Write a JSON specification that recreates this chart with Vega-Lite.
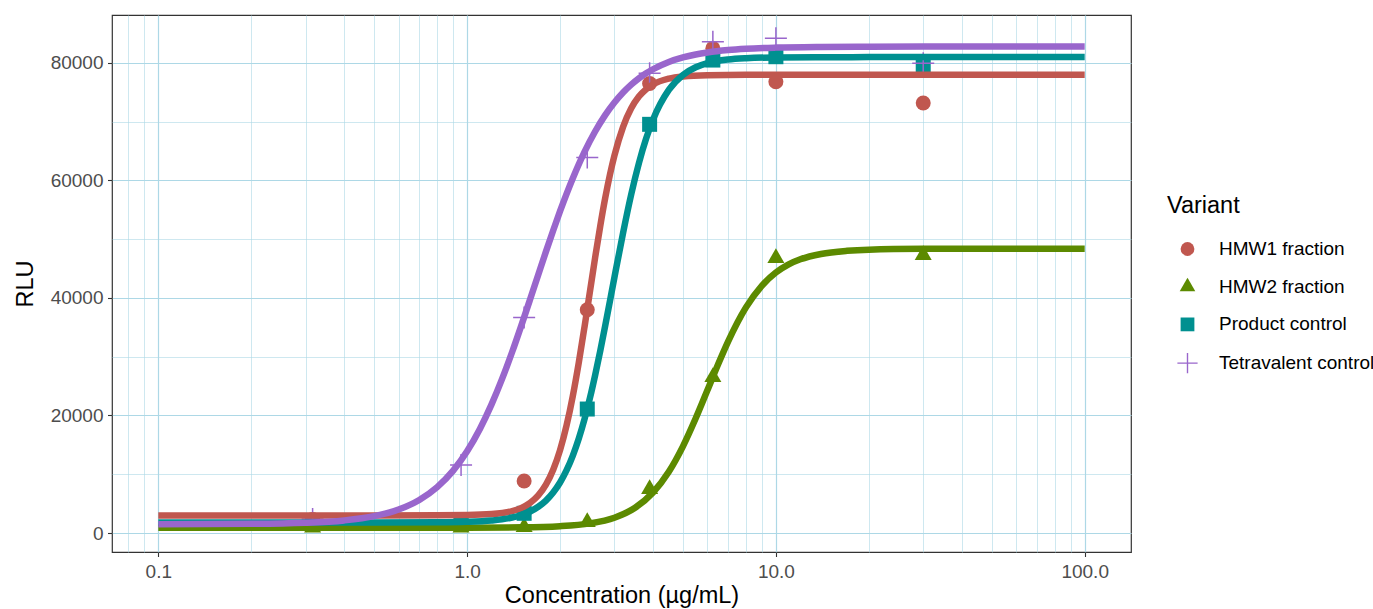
{
  "$schema": "https://vega.github.io/schema/vega-lite/v6.json",
  "width": 1019,
  "height": 537,
  "autosize": {"type": "none"},
  "padding": {"left": 112, "top": 15, "right": 242, "bottom": 57},
  "background": "white",
  "config": {
    "font": "Liberation Sans",
    "view": {"stroke": "#333333", "strokeWidth": 1.2},
    "axis": {
      "domain": false,
      "grid": true,
      "gridColor": "#ADD8E6",
      "labelFont": "Liberation Sans",
      "labelFontSize": 19,
      "labelColor": "#4D4D4D",
      "tickColor": "#333333",
      "tickSize": 4.5,
      "tickWidth": 1.1,
      "titleFont": "Liberation Sans",
      "titleFontSize": 23.5,
      "titleFontWeight": "normal",
      "titleColor": "#000000",
      "labelOverlap": false
    },
    "legend": {
      "titleFont": "Liberation Sans",
      "titleFontSize": 23.5,
      "titleFontWeight": "normal",
      "titleColor": "#000000",
      "labelFont": "Liberation Sans",
      "labelFontSize": 19,
      "labelColor": "#000000",
      "labelLimit": 400,
      "padding": 0,
      "orient": "none",
      "legendX": 1055,
      "legendY": 179,
      "titlePadding": 22,
      "symbolSize": 190,
      "symbolStrokeWidth": 0,
      "symbolOffset": 11,
      "labelOffset": 22,
      "rowPadding": 17.7
    }
  },
  "datasets": {
    "pts": [
      {"variant": "HMW1 fraction", "conc": 0.316, "rlu": 2300},
      {"variant": "HMW1 fraction", "conc": 0.956, "rlu": 2300},
      {"variant": "HMW1 fraction", "conc": 1.53, "rlu": 8850},
      {"variant": "HMW1 fraction", "conc": 2.45, "rlu": 38000},
      {"variant": "HMW1 fraction", "conc": 3.9, "rlu": 76500},
      {"variant": "HMW1 fraction", "conc": 6.25, "rlu": 82500},
      {"variant": "HMW1 fraction", "conc": 10, "rlu": 76800},
      {"variant": "HMW1 fraction", "conc": 30, "rlu": 73200},
      {"variant": "HMW2 fraction", "conc": 0.316, "rlu": 900},
      {"variant": "HMW2 fraction", "conc": 0.956, "rlu": 900},
      {"variant": "HMW2 fraction", "conc": 1.53, "rlu": 1000},
      {"variant": "HMW2 fraction", "conc": 2.45, "rlu": 1870},
      {"variant": "HMW2 fraction", "conc": 3.9, "rlu": 7490},
      {"variant": "HMW2 fraction", "conc": 6.25, "rlu": 26550},
      {"variant": "HMW2 fraction", "conc": 10, "rlu": 46800},
      {"variant": "HMW2 fraction", "conc": 30, "rlu": 47300},
      {"variant": "Product control", "conc": 0.316, "rlu": 1700},
      {"variant": "Product control", "conc": 0.956, "rlu": 1800},
      {"variant": "Product control", "conc": 1.53, "rlu": 3350},
      {"variant": "Product control", "conc": 2.45, "rlu": 21100},
      {"variant": "Product control", "conc": 3.9, "rlu": 69560},
      {"variant": "Product control", "conc": 6.25, "rlu": 80500},
      {"variant": "Product control", "conc": 10, "rlu": 81070},
      {"variant": "Product control", "conc": 30, "rlu": 79480},
      {"variant": "Tetravalent control", "conc": 0.316, "rlu": 2400},
      {"variant": "Tetravalent control", "conc": 0.956, "rlu": 11570},
      {"variant": "Tetravalent control", "conc": 1.53, "rlu": 36700},
      {"variant": "Tetravalent control", "conc": 2.45, "rlu": 63900},
      {"variant": "Tetravalent control", "conc": 3.9, "rlu": 78240},
      {"variant": "Tetravalent control", "conc": 6.25, "rlu": 83620},
      {"variant": "Tetravalent control", "conc": 10, "rlu": 84200},
      {"variant": "Tetravalent control", "conc": 30, "rlu": 79940}
    ],
    "curve": [
      {"variant": "HMW1 fraction", "conc": 0.1, "rlu": 3000},
      {"variant": "HMW1 fraction", "conc": 0.5, "rlu": 3000},
      {"variant": "HMW1 fraction", "conc": 0.8, "rlu": 3010},
      {"variant": "HMW1 fraction", "conc": 1.0, "rlu": 3051},
      {"variant": "HMW1 fraction", "conc": 1.2, "rlu": 3219},
      {"variant": "HMW1 fraction", "conc": 1.4, "rlu": 3744},
      {"variant": "HMW1 fraction", "conc": 1.5, "rlu": 4284},
      {"variant": "HMW1 fraction", "conc": 1.6, "rlu": 5125},
      {"variant": "HMW1 fraction", "conc": 1.7, "rlu": 6390},
      {"variant": "HMW1 fraction", "conc": 1.8, "rlu": 8228},
      {"variant": "HMW1 fraction", "conc": 1.9, "rlu": 10763},
      {"variant": "HMW1 fraction", "conc": 2.0, "rlu": 14100},
      {"variant": "HMW1 fraction", "conc": 2.1, "rlu": 18323},
      {"variant": "HMW1 fraction", "conc": 2.2, "rlu": 23350},
      {"variant": "HMW1 fraction", "conc": 2.3, "rlu": 29030},
      {"variant": "HMW1 fraction", "conc": 2.4, "rlu": 35080},
      {"variant": "HMW1 fraction", "conc": 2.5, "rlu": 41150},
      {"variant": "HMW1 fraction", "conc": 2.6, "rlu": 47000},
      {"variant": "HMW1 fraction", "conc": 2.7, "rlu": 52310},
      {"variant": "HMW1 fraction", "conc": 2.8, "rlu": 56990},
      {"variant": "HMW1 fraction", "conc": 2.9, "rlu": 60950},
      {"variant": "HMW1 fraction", "conc": 3.0, "rlu": 64250},
      {"variant": "HMW1 fraction", "conc": 3.2, "rlu": 69140},
      {"variant": "HMW1 fraction", "conc": 3.4, "rlu": 72290},
      {"variant": "HMW1 fraction", "conc": 3.6, "rlu": 74280},
      {"variant": "HMW1 fraction", "conc": 3.8, "rlu": 75540},
      {"variant": "HMW1 fraction", "conc": 4.0, "rlu": 76360},
      {"variant": "HMW1 fraction", "conc": 4.5, "rlu": 77350},
      {"variant": "HMW1 fraction", "conc": 5.0, "rlu": 77720},
      {"variant": "HMW1 fraction", "conc": 6.0, "rlu": 77930},
      {"variant": "HMW1 fraction", "conc": 8.0, "rlu": 77990},
      {"variant": "HMW1 fraction", "conc": 10, "rlu": 78000},
      {"variant": "HMW1 fraction", "conc": 100, "rlu": 78000},
      {"variant": "HMW2 fraction", "conc": 0.1, "rlu": 900},
      {"variant": "HMW2 fraction", "conc": 0.5, "rlu": 900},
      {"variant": "HMW2 fraction", "conc": 1.0, "rlu": 910},
      {"variant": "HMW2 fraction", "conc": 1.5, "rlu": 968},
      {"variant": "HMW2 fraction", "conc": 2.0, "rlu": 1162},
      {"variant": "HMW2 fraction", "conc": 2.5, "rlu": 1640},
      {"variant": "HMW2 fraction", "conc": 3.0, "rlu": 2608},
      {"variant": "HMW2 fraction", "conc": 3.5, "rlu": 4298},
      {"variant": "HMW2 fraction", "conc": 4.0, "rlu": 6890},
      {"variant": "HMW2 fraction", "conc": 4.5, "rlu": 10424},
      {"variant": "HMW2 fraction", "conc": 5.0, "rlu": 14751},
      {"variant": "HMW2 fraction", "conc": 5.5, "rlu": 19520},
      {"variant": "HMW2 fraction", "conc": 6.0, "rlu": 24290},
      {"variant": "HMW2 fraction", "conc": 6.5, "rlu": 28710},
      {"variant": "HMW2 fraction", "conc": 7.0, "rlu": 32570},
      {"variant": "HMW2 fraction", "conc": 7.5, "rlu": 35790},
      {"variant": "HMW2 fraction", "conc": 8.0, "rlu": 38400},
      {"variant": "HMW2 fraction", "conc": 9.0, "rlu": 42080},
      {"variant": "HMW2 fraction", "conc": 10, "rlu": 44340},
      {"variant": "HMW2 fraction", "conc": 11, "rlu": 45730},
      {"variant": "HMW2 fraction", "conc": 12, "rlu": 46590},
      {"variant": "HMW2 fraction", "conc": 14, "rlu": 47500},
      {"variant": "HMW2 fraction", "conc": 17, "rlu": 48030},
      {"variant": "HMW2 fraction", "conc": 20, "rlu": 48230},
      {"variant": "HMW2 fraction", "conc": 30, "rlu": 48370},
      {"variant": "HMW2 fraction", "conc": 50, "rlu": 48398},
      {"variant": "HMW2 fraction", "conc": 100, "rlu": 48400},
      {"variant": "Product control", "conc": 0.1, "rlu": 1800},
      {"variant": "Product control", "conc": 0.5, "rlu": 1802},
      {"variant": "Product control", "conc": 0.8, "rlu": 1828},
      {"variant": "Product control", "conc": 1.0, "rlu": 1908},
      {"variant": "Product control", "conc": 1.2, "rlu": 2128},
      {"variant": "Product control", "conc": 1.4, "rlu": 2635},
      {"variant": "Product control", "conc": 1.5, "rlu": 3065},
      {"variant": "Product control", "conc": 1.6, "rlu": 3659},
      {"variant": "Product control", "conc": 1.7, "rlu": 4463},
      {"variant": "Product control", "conc": 1.8, "rlu": 5525},
      {"variant": "Product control", "conc": 1.9, "rlu": 6890},
      {"variant": "Product control", "conc": 2.0, "rlu": 8595},
      {"variant": "Product control", "conc": 2.1, "rlu": 10685},
      {"variant": "Product control", "conc": 2.2, "rlu": 13175},
      {"variant": "Product control", "conc": 2.3, "rlu": 16080},
      {"variant": "Product control", "conc": 2.4, "rlu": 19380},
      {"variant": "Product control", "conc": 2.5, "rlu": 23010},
      {"variant": "Product control", "conc": 2.6, "rlu": 26940},
      {"variant": "Product control", "conc": 2.7, "rlu": 31050},
      {"variant": "Product control", "conc": 2.8, "rlu": 35250},
      {"variant": "Product control", "conc": 2.9, "rlu": 39430},
      {"variant": "Product control", "conc": 3.0, "rlu": 43510},
      {"variant": "Product control", "conc": 3.2, "rlu": 51100},
      {"variant": "Product control", "conc": 3.4, "rlu": 57640},
      {"variant": "Product control", "conc": 3.6, "rlu": 62940},
      {"variant": "Product control", "conc": 3.8, "rlu": 67130},
      {"variant": "Product control", "conc": 4.0, "rlu": 70360},
      {"variant": "Product control", "conc": 4.5, "rlu": 75420},
      {"variant": "Product control", "conc": 5.0, "rlu": 77970},
      {"variant": "Product control", "conc": 5.5, "rlu": 79270},
      {"variant": "Product control", "conc": 6.0, "rlu": 79980},
      {"variant": "Product control", "conc": 7.0, "rlu": 80600},
      {"variant": "Product control", "conc": 8.0, "rlu": 80820},
      {"variant": "Product control", "conc": 10, "rlu": 80950},
      {"variant": "Product control", "conc": 14, "rlu": 80990},
      {"variant": "Product control", "conc": 20, "rlu": 81000},
      {"variant": "Product control", "conc": 100, "rlu": 81000},
      {"variant": "Tetravalent control", "conc": 0.1, "rlu": 1506},
      {"variant": "Tetravalent control", "conc": 0.2, "rlu": 1561},
      {"variant": "Tetravalent control", "conc": 0.3, "rlu": 1744},
      {"variant": "Tetravalent control", "conc": 0.4, "rlu": 2144},
      {"variant": "Tetravalent control", "conc": 0.5, "rlu": 2864},
      {"variant": "Tetravalent control", "conc": 0.6, "rlu": 3993},
      {"variant": "Tetravalent control", "conc": 0.7, "rlu": 5630},
      {"variant": "Tetravalent control", "conc": 0.8, "rlu": 7817},
      {"variant": "Tetravalent control", "conc": 0.9, "rlu": 10573},
      {"variant": "Tetravalent control", "conc": 1.0, "rlu": 13906},
      {"variant": "Tetravalent control", "conc": 1.1, "rlu": 17710},
      {"variant": "Tetravalent control", "conc": 1.2, "rlu": 21885},
      {"variant": "Tetravalent control", "conc": 1.3, "rlu": 26310},
      {"variant": "Tetravalent control", "conc": 1.4, "rlu": 30850},
      {"variant": "Tetravalent control", "conc": 1.5, "rlu": 35390},
      {"variant": "Tetravalent control", "conc": 1.6, "rlu": 39780},
      {"variant": "Tetravalent control", "conc": 1.7, "rlu": 43960},
      {"variant": "Tetravalent control", "conc": 1.8, "rlu": 47890},
      {"variant": "Tetravalent control", "conc": 1.9, "rlu": 51500},
      {"variant": "Tetravalent control", "conc": 2.0, "rlu": 54780},
      {"variant": "Tetravalent control", "conc": 2.2, "rlu": 60390},
      {"variant": "Tetravalent control", "conc": 2.4, "rlu": 64870},
      {"variant": "Tetravalent control", "conc": 2.6, "rlu": 68380},
      {"variant": "Tetravalent control", "conc": 2.8, "rlu": 71130},
      {"variant": "Tetravalent control", "conc": 3.0, "rlu": 73280},
      {"variant": "Tetravalent control", "conc": 3.2, "rlu": 74980},
      {"variant": "Tetravalent control", "conc": 3.4, "rlu": 76320},
      {"variant": "Tetravalent control", "conc": 3.6, "rlu": 77390},
      {"variant": "Tetravalent control", "conc": 3.8, "rlu": 78250},
      {"variant": "Tetravalent control", "conc": 4.0, "rlu": 78940},
      {"variant": "Tetravalent control", "conc": 4.5, "rlu": 80180},
      {"variant": "Tetravalent control", "conc": 5.0, "rlu": 80950},
      {"variant": "Tetravalent control", "conc": 5.5, "rlu": 81450},
      {"variant": "Tetravalent control", "conc": 6.0, "rlu": 81790},
      {"variant": "Tetravalent control", "conc": 7.0, "rlu": 82200},
      {"variant": "Tetravalent control", "conc": 8.0, "rlu": 82420},
      {"variant": "Tetravalent control", "conc": 10, "rlu": 82620},
      {"variant": "Tetravalent control", "conc": 14, "rlu": 82740},
      {"variant": "Tetravalent control", "conc": 20, "rlu": 82780},
      {"variant": "Tetravalent control", "conc": 30, "rlu": 82795},
      {"variant": "Tetravalent control", "conc": 50, "rlu": 82800},
      {"variant": "Tetravalent control", "conc": 100, "rlu": 82800}
    ]
  },
  "encoding": {
    "x": {
      "field": "conc",
      "type": "quantitative",
      "title": "Concentration (µg/mL)",
      "scale": {"type": "log", "domain": [0.0708, 141.25], "nice": false},
      "axis": {
        "values": [0.08, 0.09, 0.1, 0.2, 0.3, 0.4, 0.5, 0.6, 0.7, 0.8, 0.9, 1, 2, 3, 4, 5, 6, 7, 8, 9, 10, 20, 30, 40, 50, 60, 70, 80, 90, 100],
        "labelExpr": "datum.value == 0.1 ? '0.1' : datum.value == 1 ? '1.0' : datum.value == 10 ? '10.0' : datum.value == 100 ? '100.0' : ''",
        "gridWidth": {"condition": {"test": "datum.value == 0.1 || datum.value == 1 || datum.value == 10 || datum.value == 100", "value": 1.2}, "value": 0.6},
        "tickOpacity": {"condition": {"test": "datum.value == 0.1 || datum.value == 1 || datum.value == 10 || datum.value == 100", "value": 1}, "value": 0},
        "labelPadding": 6,
        "titlePadding": 2
      }
    },
    "y": {
      "field": "rlu",
      "type": "quantitative",
      "title": "RLU",
      "scale": {"domain": [-3234, 88170], "nice": false, "zero": false},
      "axis": {
        "values": [0, 10000, 20000, 30000, 40000, 50000, 60000, 70000, 80000],
        "labelExpr": "datum.value % 20000 == 0 ? format(datum.value, 'd') : ''",
        "gridWidth": {"condition": {"test": "datum.value % 20000 == 0", "value": 1.2}, "value": 0.6},
        "tickOpacity": {"condition": {"test": "datum.value % 20000 == 0", "value": 1}, "value": 0},
        "labelPadding": 4.5,
        "titlePadding": 13
      }
    }
  },
  "layer": [
    {
      "data": {"name": "pts"},
      "mark": {"type": "point", "filled": true, "size": 225, "opacity": 1},
      "encoding": {
        "color": {
          "field": "variant",
          "type": "nominal",
          "title": "Variant",
          "scale": {"domain": ["HMW1 fraction", "HMW2 fraction", "Product control", "Tetravalent control"], "range": ["#C0574F", "#5C8A00", "#009090", "#9966CC"]}
        },
        "shape": {
          "field": "variant",
          "type": "nominal",
          "title": "Variant",
          "scale": {"domain": ["HMW1 fraction", "HMW2 fraction", "Product control", "Tetravalent control"], "range": ["circle", "M0,-1.308L1.133,0.654L-1.133,0.654Z", "square", "M-1.467,-0.1H-0.1V-1.467H0.1V-0.1H1.467V0.1H0.1V1.467H-0.1V0.1H-1.467Z"]}
        }
      }
    },
    {
      "data": {"name": "curve"},
      "mark": {"type": "line", "strokeWidth": 6.5, "interpolate": "monotone"},
      "encoding": {
        "color": {
          "field": "variant",
          "type": "nominal",
          "title": "Variant",
          "scale": {"domain": ["HMW1 fraction", "HMW2 fraction", "Product control", "Tetravalent control"], "range": ["#C0574F", "#5C8A00", "#009090", "#9966CC"]}
        }
      }
    }
  ]
}
